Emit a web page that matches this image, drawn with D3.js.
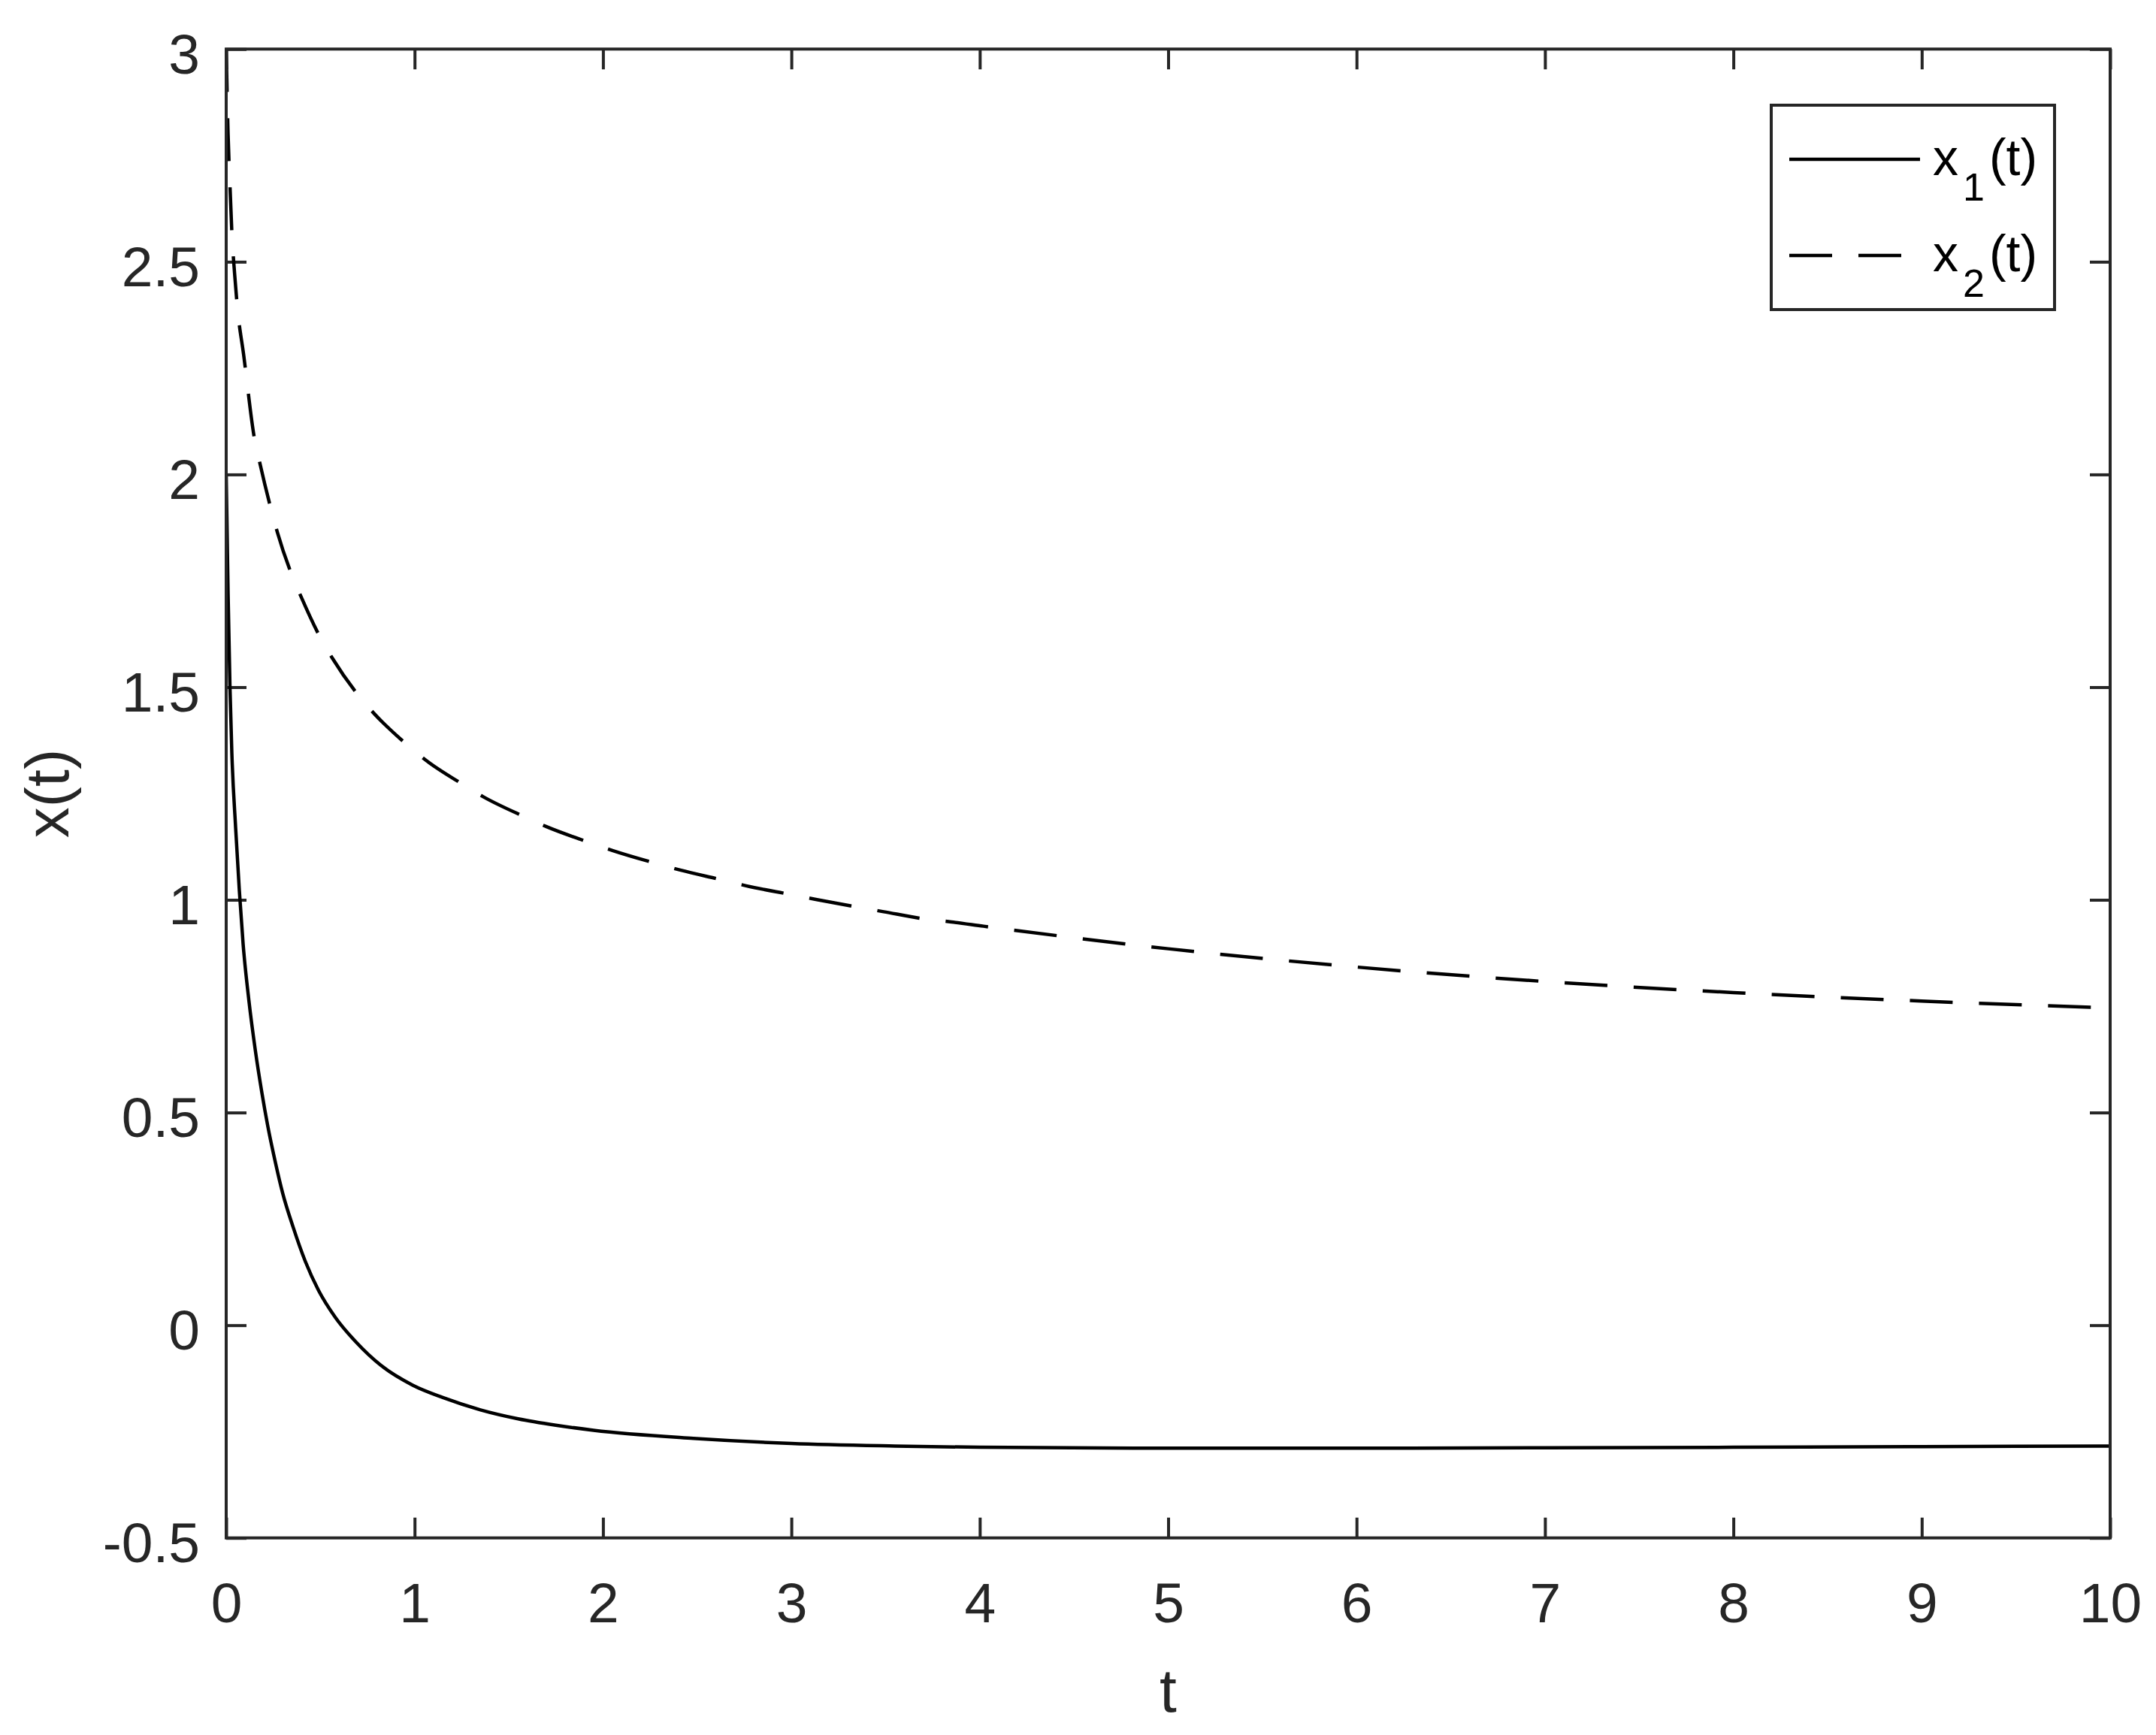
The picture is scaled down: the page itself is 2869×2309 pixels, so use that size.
<!DOCTYPE html>
<meta charset="utf-8">
<style>
body {
    margin: 0;
    background: #fff;
}

text {
    font-family: 'Liberation Sans', Arial, Helvetica, sans-serif;
    fill: #262626;
}

.frame {
    fill: none;
    stroke: #262626;
    stroke-width: 4;
}

.axis line {
    stroke: #262626;
    stroke-width: 4;
}

.axis text {
    font-size: 75px;
}

.curve {
    fill: none;
    stroke: #000;
    stroke-width: 4.5;
}

.legend rect {
    fill: #fff;
    stroke: #262626;
    stroke-width: 4;
}

.legend text {
    font-size: 68px;
    fill: #000;
}
</style>
<body>
<script src="https://cdn.jsdelivr.net/npm/d3@7"></script>

<script>

// ---------------- data ----------------

// x1(t), solid line
var t1 = [0, 0.005, 0.01, 0.02, 0.03, 0.05, 0.07, 0.09, 0.12, 0.155,
          0.19, 0.22, 0.26, 0.30, 0.355, 0.42, 0.49, 0.58, 0.69, 0.82,
          0.99, 1.15, 1.35, 1.55, 1.75, 1.95, 2.48, 3.0, 3.55, 4.0,
          5.0, 6.0, 7.0, 8.0, 9.0, 10.0]
var x1 = [2.0, 1.86, 1.72, 1.50, 1.345, 1.17, 1.02, 0.895, 0.765, 0.645,
          0.545, 0.47, 0.385, 0.31, 0.231, 0.150, 0.082, 0.018, -0.040, -0.094,
          -0.141, -0.170, -0.199, -0.220, -0.235, -0.247, -0.266, -0.278, -0.284, -0.287,
          -0.289, -0.289, -0.288, -0.287, -0.2855, -0.284]

// x2(t), dashed line
var t2 = [0, 0.01, 0.02, 0.03, 0.045, 0.06, 0.093, 0.149, 0.18, 0.233,
          0.271, 0.342, 0.398, 0.492, 0.565, 0.694, 0.787, 0.951, 1.06, 1.25,
          1.37, 1.58, 1.70, 1.92, 2.05, 2.27, 2.41, 2.63, 2.76, 2.99,
          3.13, 3.35, 3.49, 3.71, 3.85, 4.02, 5.0, 6.0, 7.0, 8.0,
          9.0, 10.0]
var x2 = [3.0, 2.80, 2.68, 2.57, 2.47, 2.39, 2.28, 2.087, 2.024, 1.927,
          1.865, 1.771, 1.712, 1.623, 1.567, 1.485, 1.437, 1.368, 1.328, 1.273,
          1.241, 1.196, 1.172, 1.136, 1.116, 1.087, 1.070, 1.047, 1.033, 1.013,
          1.001, 0.983, 0.972, 0.955, 0.948, 0.938, 0.885, 0.842, 0.808, 0.782,
          0.762, 0.746]

var xTicks = [0, 1, 2, 3, 4, 5, 6, 7, 8, 9, 10]
var yTicks = [-0.5, 0, 0.5, 1, 1.5, 2, 2.5, 3]

var seriesNames = ['1', '2']   // subscripts of x_i(t)
var seriesDash = [null, '57,35']

var xLabel = 't'
var yLabel = 'x(t)'

// ---------------- layout ----------------

var width = 2869
var height = 2309

var plot = {left: 301, right: 2808, top: 65.3, bottom: 2046.7}
var tickLen = 27

var x = d3.scaleLinear()
    .domain([0, 10])
    .range([plot.left, plot.right])

var y = d3.scaleLinear()
    .domain([-0.5, 3])
    .range([plot.bottom, plot.top])

var svg = d3.select('body')
    .append('svg')
    .attr('width', width)
    .attr('height', height)

svg.append('defs')
    .append('clipPath')
    .attr('id', 'clip')
    .append('rect')
    .attr('x', plot.left)
    .attr('y', plot.top)
    .attr('width', plot.right - plot.left)
    .attr('height', plot.bottom - plot.top)

// ---------------- axes (ticks inward on all four sides) ----------------

var fmt = function (d) { return String(d) }

var bottomAxis = svg.append('g')
    .attr('class', 'axis')
    .attr('transform', 'translate(0,' + plot.bottom + ')')
    .call(d3.axisBottom(x).tickValues(xTicks).tickFormat(fmt)
        .tickSizeInner(-tickLen).tickSizeOuter(0).tickPadding(59))

var leftAxis = svg.append('g')
    .attr('class', 'axis')
    .attr('transform', 'translate(' + plot.left + ',0)')
    .call(d3.axisLeft(y).tickValues(yTicks).tickFormat(fmt)
        .tickSizeInner(-tickLen).tickSizeOuter(0).tickPadding(35))

leftAxis.selectAll('text').attr('dy', '0.43em')

svg.append('g')
    .attr('class', 'axis')
    .attr('transform', 'translate(0,' + plot.top + ')')
    .call(d3.axisTop(x).tickValues(xTicks).tickFormat('')
        .tickSizeInner(-tickLen).tickSizeOuter(0))

svg.append('g')
    .attr('class', 'axis')
    .attr('transform', 'translate(' + plot.right + ',0)')
    .call(d3.axisRight(y).tickValues(yTicks).tickFormat('')
        .tickSizeInner(-tickLen).tickSizeOuter(0))

svg.selectAll('.axis .domain').remove()
svg.selectAll('.axis text').attr('font-family', null).attr('font-size', null)

// ---------------- curves ----------------

var line = d3.line()
    .x(function (d) { return x(d[0]) })
    .y(function (d) { return y(d[1]) })
    .curve(d3.curveMonotoneX)

var series = [d3.zip(t1, x1), d3.zip(t2, x2)]

svg.append('g')
    .attr('clip-path', 'url(#clip)')
    .selectAll('path')
    .data(series)
    .enter().append('path')
    .attr('class', 'curve')
    .attr('stroke-dasharray', function (d, i) { return seriesDash[i] })
    .attr('d', line)

// box round the plot
svg.append('rect')
    .attr('class', 'frame')
    .attr('x', plot.left)
    .attr('y', plot.top)
    .attr('width', plot.right - plot.left)
    .attr('height', plot.bottom - plot.top)

// ---------------- axis labels ----------------

svg.append('text')
    .attr('x', (plot.left + plot.right) / 2)
    .attr('y', 2278)
    .attr('text-anchor', 'middle')
    .style('font-size', '82px')
    .text(xLabel)

svg.append('text')
    .attr('transform', 'translate(91,' + (plot.top + plot.bottom) / 2 + ') rotate(-90)')
    .attr('text-anchor', 'middle')
    .style('font-size', '82px')
    .text(yLabel)

// ---------------- legend ----------------

var legend = svg.append('g').attr('class', 'legend')

legend.append('rect')
    .attr('x', 2357)
    .attr('y', 140)
    .attr('width', 2734 - 2357)
    .attr('height', 412 - 140)

var rowY = [212, 340]

var rows = legend.selectAll('g.row')
    .data(seriesNames)
    .enter().append('g')
    .attr('class', 'row')
    .attr('transform', function (d, i) { return 'translate(0,' + rowY[i] + ')' })

rows.append('line')
    .attr('x1', 2381)
    .attr('x2', 2555)
    .attr('stroke', '#000')
    .attr('stroke-width', 4.5)
    .attr('stroke-dasharray', function (d, i) { return seriesDash[i] })

var labels = rows.append('text')
    .attr('x', 2572)
    .attr('y', 21)

labels.append('tspan').text('x')
labels.append('tspan')
    .attr('dx', 6)
    .attr('dy', 34)
    .style('font-size', '52px')
    .text(function (d) { return d })
labels.append('tspan')
    .attr('dx', 6)
    .attr('dy', -34)
    .text('(t)')

</script>
</body>
